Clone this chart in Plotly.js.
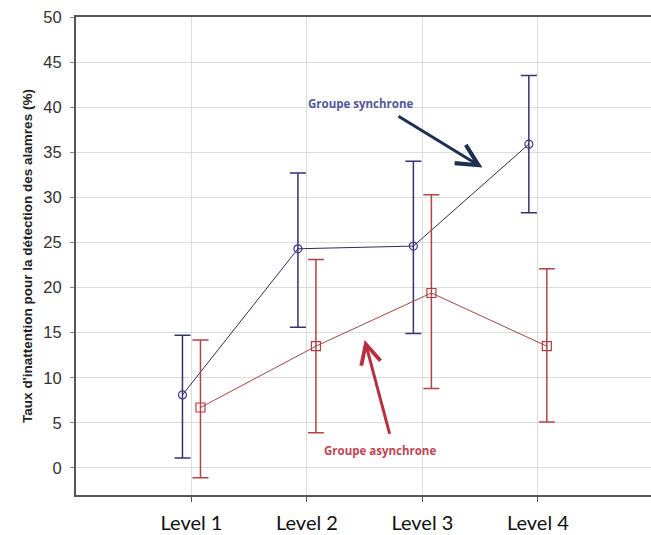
<!DOCTYPE html>
<html>
<head>
<meta charset="utf-8">
<script src="https://cdn.plot.ly/plotly-3.0.1.min.js"></script>
<style>html,body{margin:0;padding:0;background:#fff;}#chart{width:651px;height:535px;}</style>
</head>
<body>
<div id="chart"></div>
<script>
var levels = [1, 2, 3, 4];
var levelLabels = ["Level 1", "Level 2", "Level 3", "Level 4"];
var syncMean = [8.1, 24.3, 24.6, 35.9];
var syncUpper = [14.7, 32.7, 34.0, 43.5];
var syncLower = [1.1, 15.6, 14.9, 28.3];
var asyncMean = [6.7, 13.5, 19.4, 13.5];
var asyncUpper = [14.2, 23.1, 30.3, 22.1];
var asyncLower = [-1.1, 3.9, 8.8, 5.1];

var off = 0.078;
function diff(a, b) { return a.map(function (v, i) { return v - b[i]; }); }

var blue = '#34346e';
var red = '#b04448';

var traces = [
  {
    x: levels.map(function (v) { return v - off; }),
    y: syncMean,
    type: 'scatter', mode: 'lines+markers',
    line: {color: '#2c2c58', width: 1},
    marker: {symbol: 'circle-open', size: 8, color: '#3c3c90', line: {width: 1.2}},
    error_y: {type: 'data', symmetric: false, array: diff(syncUpper, syncMean), arrayminus: diff(syncMean, syncLower), color: blue, thickness: 1.5, width: 8},
    showlegend: false, hoverinfo: 'none'
  },
  {
    x: levels.map(function (v) { return v + off; }),
    y: asyncMean,
    type: 'scatter', mode: 'lines+markers',
    line: {color: '#a04848', width: 1},
    marker: {symbol: 'square-open', size: 9, color: '#b04040', line: {width: 1.2}},
    error_y: {type: 'data', symmetric: false, array: diff(asyncUpper, asyncMean), arrayminus: diff(asyncMean, asyncLower), color: red, thickness: 1.5, width: 8},
    showlegend: false, hoverinfo: 'none'
  }
];

var layout = {
  width: 651, height: 535,
  margin: {l: 76, r: 0, t: 17, b: 40},
  paper_bgcolor: '#fff', plot_bgcolor: '#fff',
  xaxis: {
    range: [0, 4.98], tickmode: 'array', tickvals: levels, ticktext: levelLabels,
    showgrid: true, gridcolor: '#dcdcdc', gridwidth: 1, zeroline: false,
    showline: true, linecolor: '#555', linewidth: 2, mirror: true,
    ticks: 'outside', ticklen: 5, tickcolor: '#555', ticklabelstandoff: 4,
    tickfont: {family: 'Lato, Open Sans, sans-serif', size: 20, color: '#111'}
  },
  yaxis: {
    range: [-3, 50], tickmode: 'array', tickvals: [0,5,10,15,20,25,30,35,40,45,50],
    showgrid: true, gridcolor: '#dcdcdc', gridwidth: 1, zeroline: false,
    showline: true, linecolor: '#555', linewidth: 2,
    ticks: 'outside', ticklen: 4, tickcolor: '#888', ticklabelstandoff: 5,
    tickfont: {family: 'Liberation Sans, Arial, sans-serif', size: 16.5, color: '#333'},
    title: {text: "Taux d'inattention pour la détection des alamres (%)", standoff: 8,
      font: {family: 'Liberation Sans, Arial, sans-serif', size: 13.5, color: '#222', weight: 'bold'}}
  },
  annotations: [
    {x: 2.46, y: 40.4, xref: 'x', yref: 'y', text: '<b>Groupe synchrone</b>', showarrow: false,
     font: {family: 'Open Sans, sans-serif', size: 11.5, color: '#56569a'}},
    {x: 2.63, y: 1.9, xref: 'x', yref: 'y', text: '<b>Groupe asynchrone</b>', showarrow: false,
     font: {family: 'Open Sans, sans-serif', size: 11.5, color: '#c04452'}},
    {x: 3.52, y: 33.3, ax: 2.78, ay: 39.1, xref: 'x', yref: 'y', axref: 'x', ayref: 'y', text: '',
     showarrow: true, arrowhead: 5, arrowsize: 1.4, arrowwidth: 3, arrowcolor: '#1f2f50'},
    {x: 2.50, y: 14.2, ax: 2.72, ay: 3.6, xref: 'x', yref: 'y', axref: 'x', ayref: 'y', text: '',
     showarrow: true, arrowhead: 5, arrowsize: 1.3, arrowwidth: 3, arrowcolor: '#b83040'}
  ]
};

Plotly.newPlot('chart', traces, layout, {displayModeBar: false, staticPlot: true});
</script>
</body>
</html>
